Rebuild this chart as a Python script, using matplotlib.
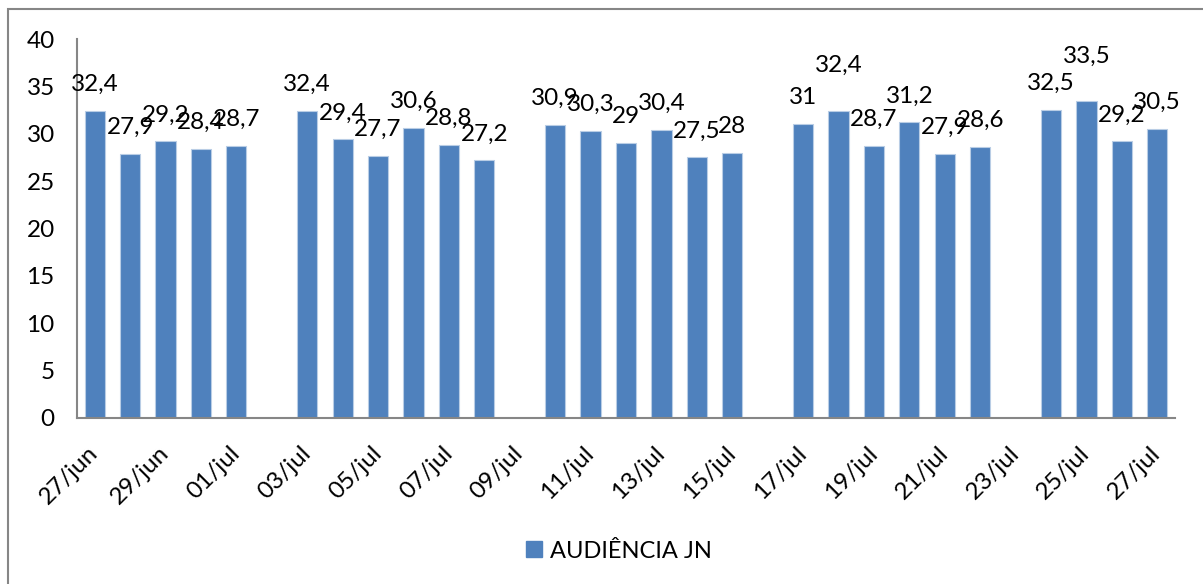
import matplotlib
matplotlib.use("Agg")
import matplotlib.pyplot as plt
import matplotlib.patches as mpatches
import numpy as np

# ---- data ----
days = ["27/jun", "28/jun", "29/jun", "30/jun", "01/jul", "02/jul", "03/jul", "04/jul",
        "05/jul", "06/jul", "07/jul", "08/jul", "09/jul", "10/jul", "11/jul", "12/jul",
        "13/jul", "14/jul", "15/jul", "16/jul", "17/jul", "18/jul", "19/jul", "20/jul",
        "21/jul", "22/jul", "23/jul", "24/jul", "25/jul", "26/jul", "27/jul"]
values = [32.4, 27.9, 29.2, 28.4, 28.7, None, 32.4, 29.4, 27.7, 30.6, 28.8, 27.2, None,
          30.9, 30.3, 29.0, 30.4, 27.5, 28.0, None, 31.0, 32.4, 28.7, 31.2, 27.9, 28.6,
          None, 32.5, 33.5, 29.2, 30.5]
labels = ["32,4", "27,9", "29,2", "28,4", "28,7", "", "32,4", "29,4", "27,7", "30,6", "28,8",
          "27,2", "", "30,9", "30,3", "29", "30,4", "27,5", "28", "", "31", "32,4", "28,7",
          "31,2", "27,9", "28,6", "", "32,5", "33,5", "29,2", "30,5"]
series_name = "AUDIÊNCIA JN"
yticks = [0, 5, 10, 15, 20, 25, 30, 35, 40]

# label offsets (points) for the few labels Excel pushed higher
raised = {"18/jul": 33, "25/jul": 32}

plt.rcParams['font.family'] = ['Lato', 'DejaVu Sans']
FS = 17.5
color = "#4F81BD"

fig = plt.figure(figsize=(12.03, 5.84), dpi=100)
ax = fig.add_axes([77/1203, 1-418/584, (1175-77)/1203, (418-39)/584])

x = np.arange(len(days))
for xi, v, lab, d in zip(x, values, labels, days):
    if v is None:
        continue
    ax.bar(xi, v, width=0.57, color=color, edgecolor="#B9CDE5", linewidth=0.8)
    ax.annotate(lab, (xi, v), xytext=(0, raised.get(d, 19)), textcoords="offset points",
                ha="center", va="center", fontsize=FS, color="black")

ax.set_xlim(-0.5, len(days) - 0.5)
ax.set_ylim(0, 40)
ax.set_yticks(yticks)
ax.set_yticklabels([str(t) for t in yticks], fontsize=FS)
ax.set_xticks(x[::2])
ax.set_xticklabels(days[::2], fontsize=FS, rotation=45, ha="right", va="center",
                   rotation_mode="anchor")
ax.tick_params(axis="both", length=0)
ax.tick_params(axis="y", pad=16)
ax.tick_params(axis="x", pad=23)
for s in ["top", "right"]:
    ax.spines[s].set_visible(False)
for s in ["left", "bottom"]:
    ax.spines[s].set_color("#868686")
    ax.spines[s].set_linewidth(1.5)

# legend
handle = mpatches.Patch(color=color, label=series_name)
fig.legend(handles=[handle], loc="center", bbox_to_anchor=(619/1203, 1-551/584),
           frameon=False, fontsize=17, handlelength=0.65, handleheight=0.65,
           handletextpad=0.35)

# outer chart border
fig.patches.append(mpatches.Rectangle((7.5/1203, -0.1), 1.2, 1.1 - 9.5/584,
                                      transform=fig.transFigure, fill=False,
                                      edgecolor="#868686", linewidth=1.5))

fig.savefig("out.png", dpi=100)
